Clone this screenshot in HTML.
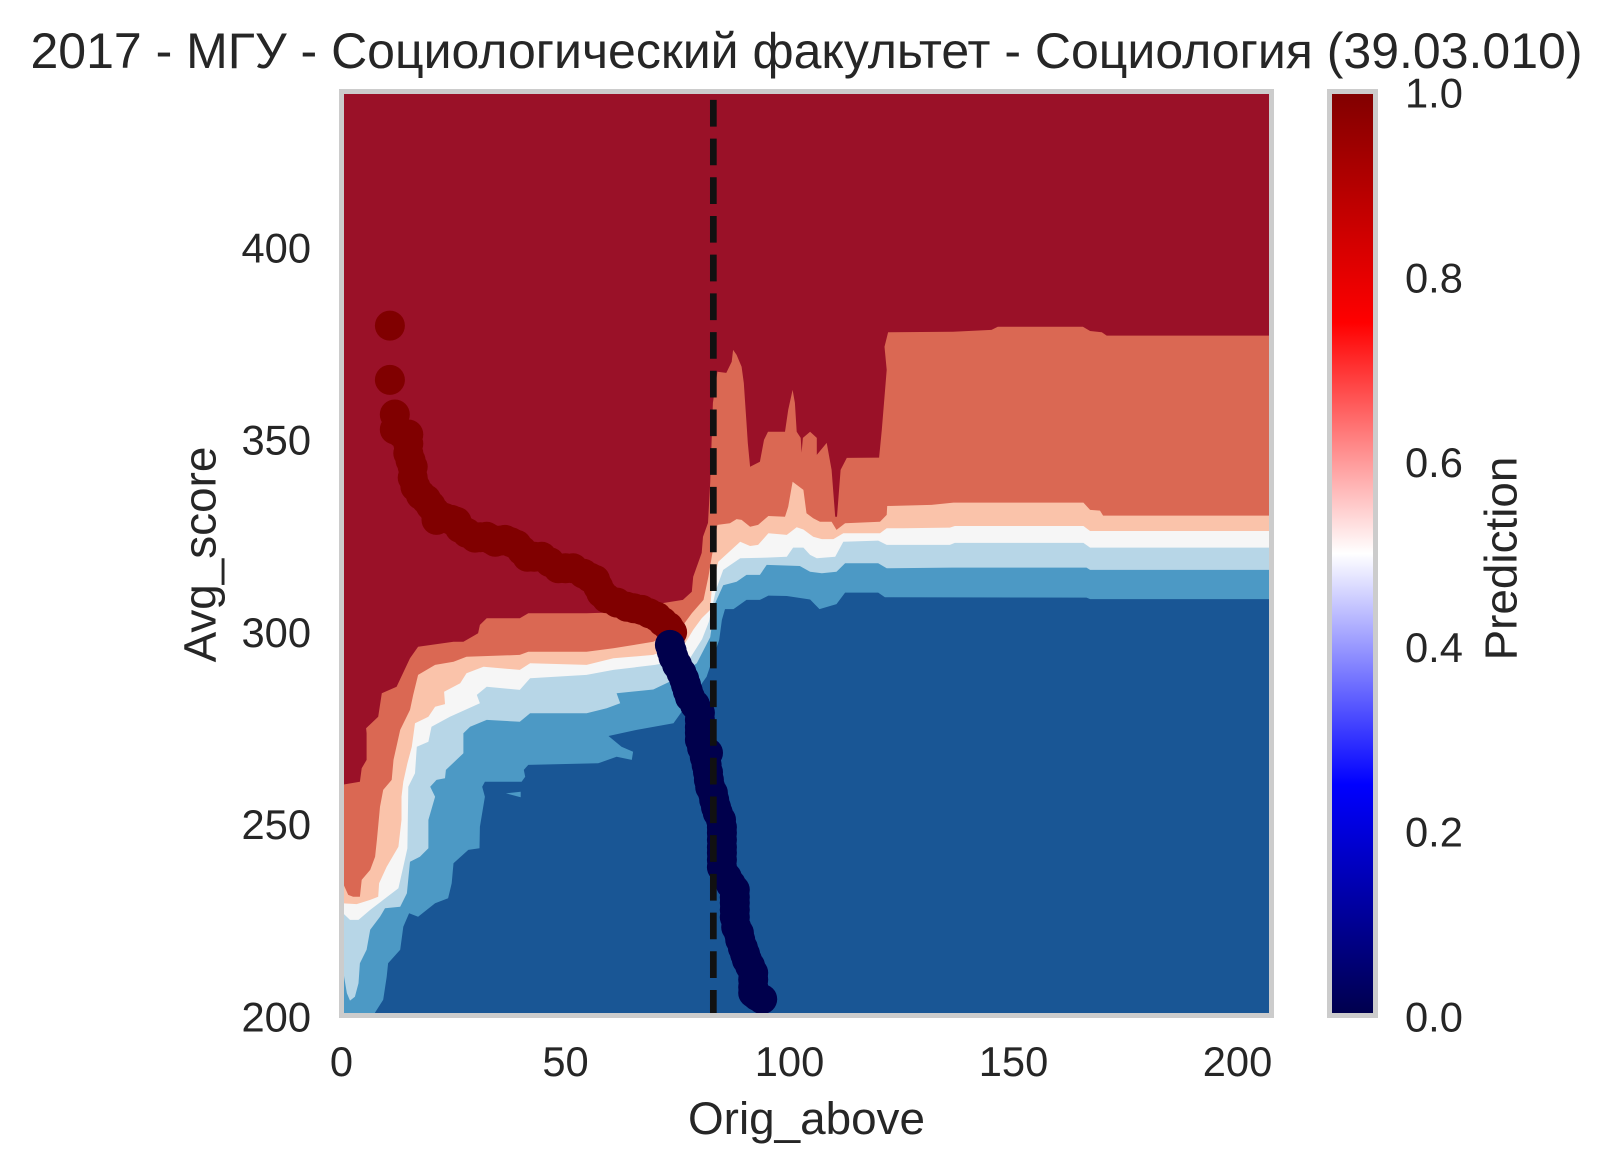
<!DOCTYPE html>
<html>
<head>
<meta charset="utf-8">
<title>2017 - МГУ - Социологический факультет - Социология (39.03.010)</title>
<style>
html,body{margin:0;padding:0;background:#fff;}
svg{display:block;}
text{font-family:"Liberation Sans","DejaVu Sans",sans-serif;fill:#262626;}
</style>
</head>
<body>
<svg id="chart" xmlns="http://www.w3.org/2000/svg" width="1612" height="1173" viewBox="0 0 1612 1173">
  <defs>
    <clipPath id="plot-clip"><rect x="341.5" y="91.5" width="930" height="924"></rect></clipPath>
    <linearGradient id="seismic" x1="0" y1="1" x2="0" y2="0"></linearGradient>
  </defs>
  <rect x="0" y="0" width="1612" height="1173" fill="#ffffff"></rect>
  <g id="contours" clip-path="url(#plot-clip)"></g>
  <g id="points" clip-path="url(#plot-clip)"></g>
  <line id="cutoff" stroke="#111111" stroke-width="6.7" stroke-dasharray="26.7 12"></line>
  <rect x="341.5" y="91.5" width="930" height="924" fill="none" stroke="#cccccc" stroke-width="5"></rect>
  <rect x="1329.5" y="91.5" width="46" height="924" fill="url(#seismic)" stroke="#cccccc" stroke-width="5"></rect>
  <g id="ticks"></g>
  <text x="806.5" y="68" font-size="50" text-anchor="middle">2017 - МГУ - Социологический факультет - Социология (39.03.010)</text>
  <text x="806.5" y="1134" font-size="45.83" text-anchor="middle">Orig_above</text>
  <text x="215.7" y="554.5" font-size="45.83" text-anchor="middle" transform="rotate(-90 215.7 554.5)">Avg_score</text>
  <text x="1516.7" y="558.5" font-size="45.83" text-anchor="middle" transform="rotate(-90 1516.7 558.5)">Prediction</text>
</svg>
<script>
// ---- Data (axis units) ----
const xTicks = [0, 50, 100, 150, 200];
const yTicks = [200, 250, 300, 350, 400];
const colorbarTicks = [0.0, 0.2, 0.4, 0.6, 0.8, 1.0];
const cutoffX = 83;
const cutoffYRange = [200, 438.2];

const bandColors = ['#da6853', '#fac3aa', '#f6f6f6', '#b7d6e7', '#4c99c5', '#195695'];
const topBandColor = '#9a1128';
const seismicValues = [0, 0.25, 0.5, 0.75, 1];
const seismicColors = ['#00004c', '#0000ff', '#ffffff', '#ff0000', '#800000'];

const boundaryDarkRed = [[0,260.1],[4.1,260.9],[4.5,264.4],[5.6,266.6],[5.6,273.5],[5.5,274.8],[8.2,277.8],[9,283.9],[12.3,285.6],[15.3,293],[17.1,296],[25,297.3],[27.2,297.3],[30.5,299.5],[30.9,301.7],[32.4,303.4],[39.8,303.4],[41.7,304.7],[54.7,304.7],[62,305],[71.5,307.3],[76.2,308.2],[78.2,310.3],[78.5,314.2],[80.4,320.4],[80.7,324.6],[81.8,328.2],[82.3,338.6],[82.9,359.4],[83.9,367.5],[85.9,367.2],[87.1,370.1],[87.4,373.2],[88.2,371.9],[89.3,368.8],[89.8,364.6],[90.4,354.2],[90.7,349],[91.2,342.8],[93.4,344.1],[94.3,349.8],[95.2,351.9],[99,351.9],[99.7,357.6],[100.7,362.8],[101.2,359.4],[101.6,351.9],[102.5,350.3],[102.7,346.5],[103,350.3],[104.6,351.9],[106.1,350.3],[106.1,345.9],[108.3,349],[109.4,342],[110.2,329.8],[110.6,329.8],[111.4,342],[112.8,345.1],[120,345.2],[120.6,352.4],[121.7,368],[121.2,374],[122,377.8],[136.5,377.9],[145.1,378.4],[146.5,379.2],[165.5,379.2],[167.1,378.1],[169.7,377.8],[170.8,376.9],[207.6,376.9]];

const boundaryOrange = [[0,235.4],[1.5,231.5],[2.6,231],[4.1,231],[4.5,235.4],[6.4,238],[7.5,241.4],[7.9,245.8],[8.6,254.4],[9.3,258.8],[11.2,261.4],[11.6,266.6],[13.1,274.4],[15.3,279.6],[16,283.5],[17.1,288.7],[20.9,291.3],[25,292.1],[27.9,293.4],[39.8,293.9],[41.7,294.7],[54.7,294.7],[60.7,295.6],[69.6,297.3],[76.3,301.7],[78.2,304.7],[80.8,308.2],[81.9,314.2],[82.9,321.2],[83.9,327.7],[86.7,328.1],[88.2,329.2],[89.3,329],[91.2,327.2],[93,327.7],[95.3,330],[99,329.8],[99.7,332.4],[100.7,338.9],[103.1,336.8],[103.8,330.7],[105.3,329.4],[106.8,328.5],[109.4,328.5],[110.5,326.4],[112.4,328.1],[120.2,328.5],[121.7,330.3],[121.8,332.6],[131.7,332.9],[136.6,333.5],[165.6,333.5],[167.1,331.6],[169.3,331.4],[170,330.1],[207.6,330.1]];

const boundaryPeach = [[0,229.3],[3.4,229.1],[6.4,230.2],[8.2,231],[8.4,234.5],[10.1,238.8],[12.7,244],[13.4,251],[13.4,257],[13.8,260.9],[14.7,265.7],[15.7,270],[16.4,276.1],[19.4,277.8],[20.9,280.4],[23.1,281.1],[22.9,284.3],[26.5,286.5],[27.9,289.1],[31.7,290.8],[39.8,290],[42.1,291.7],[54.7,291.3],[60.7,293],[69.6,293.9],[76.7,296.9],[78.5,300.4],[80.4,303.4],[82.3,305.6],[82.6,310.3],[84.1,318.1],[89,323.3],[91.2,322.2],[93,322.5],[95.3,325.5],[99.4,325.1],[101.6,327.1],[103.1,326.5],[105.3,324.6],[107.2,324],[109.8,324],[112,325.5],[120.2,325.5],[121.7,326.8],[125.4,326.8],[135.8,327],[136.9,327.4],[165.6,327.4],[167.1,326.1],[207.6,326.1]];

const boundaryWhite = [[0,227.1],[1.9,225],[3.8,225],[6.4,227.6],[9.3,230.2],[12.7,233.2],[13.8,238.8],[14.7,243.6],[14.9,259.6],[16.4,263.1],[16.8,270],[19.4,271.3],[20.1,275.2],[24.2,277.8],[30.9,281.3],[30.2,283.5],[32.4,285.6],[39.8,284.8],[42.1,287.8],[54.7,288.7],[60.7,290],[70,291.3],[77.8,293],[80.5,298],[82,302.5],[83.6,310.8],[85.2,316],[89,319],[94.9,319.2],[99.4,319.4],[100.8,321.8],[103.1,321.8],[104.6,319.9],[106.1,319],[110.2,319.4],[112,323.3],[119.8,323.6],[121.7,322.5],[135.8,322.5],[136.9,323],[165.6,323],[167.1,321.8],[207.6,321.8]];

const boundaryLightBlue = [[0,216],[0.6,210],[1.2,205.9],[1.9,204],[3,205],[3.8,208.5],[4.1,213.7],[5.6,217.2],[6.4,222.4],[8.6,225.8],[9.7,228],[13.1,228.4],[14.6,231.9],[15.3,240.1],[17.5,241.4],[19.4,243.6],[19.4,251],[20.9,257],[19.8,259.6],[21.2,261.4],[23.1,261.8],[23.3,264],[27.2,268.3],[27.2,273.5],[28.7,275.2],[32.4,277],[39.8,276.5],[42.1,278.7],[54.7,278.7],[59.2,280],[62.2,281.3],[61.4,283.9],[69.6,284.9],[74.1,287.4],[79.3,291.7],[82.3,298.5],[83.4,307.3],[85.2,312],[88.2,312.9],[90.4,314.7],[93.4,314.7],[94.9,317.3],[102.3,317],[104.6,315.5],[107.2,315.1],[110.5,315.5],[112.4,317.7],[119.8,317.7],[121.7,316.4],[136.2,316.6],[166.3,316.6],[167.1,316],[207.6,316]];

const boundaryMidBlue = [[7.2,200],[7.5,200.9],[9.3,204.2],[10.1,210.2],[10.4,213.7],[13.1,217.2],[13.8,223.2],[15.1,226.7],[17.1,225.8],[20.9,229.3],[23.8,230.6],[24.6,234.5],[25,239.7],[28.3,243.2],[30.8,243.6],[30.9,249.2],[32,257],[31.4,259.6],[32,260.9],[40.2,260.9],[41,262.2],[40.7,264],[41.7,265.3],[57.3,265.7],[61.4,267.4],[64.8,266.6],[65.1,268.7],[62.5,270],[59.6,272.8],[65.9,274.4],[74.1,276.1],[81.5,288.2],[84.3,297.8],[84.9,303],[85.6,305.8],[87.5,305.8],[90.4,308.2],[93.4,308.2],[95.3,309.3],[99.4,309.2],[104.6,308.3],[106.7,305.8],[110.5,307.1],[112.4,310.1],[119.8,310.1],[121.3,308.9],[166.3,308.8],[167.1,308.4],[207.6,308.4]];

const midBlueIsland = [[36.7,257.9],[40,258.3],[40,256.9],[38,257.5]];

const redPointsX = [10.8,10.8,11.9,11.9,13.4,14.9,14.9,14.9,15.4,15.9,15.9,16.5,17.7,18.9,19.9,20.9,21.2,23,24.5,25.7,26.4,28,29.8,31,32.4,33.3,34.3,35.4,36.5,37.8,39.1,40.3,41.5,43,44.7,46.5,48.4,50,51.7,54,55.5,56.6,57.3,58,59.2,61.5,63.7,65.3,67,68.7,70.4,71.7,73,73.8];
const redPointsY = [379.5,365.4,356.4,352.5,351.5,351.2,348.8,346.3,344.5,342.8,340,337.6,335.5,334.3,332.7,331.1,329,329.5,329,328.5,326.9,325.6,324.4,324.5,324.6,324,323.3,323.6,323.8,323.2,322.5,321,319.4,319.4,319.4,318,316.4,316.4,316.4,315,314,313.4,311.6,310,308.6,307.5,306.4,306,305.6,304.7,303.8,302.5,301.2,299.8];

const bluePointsX = [73.3,73.7,74.1,74.9,75.9,76.5,76.9,77.3,77.8,78.9,80,80,80,80,80,80.5,81.1,81.8,81.5,81.8,82,82.3,82.9,83.2,83.6,84,84.7,84.9,84.9,84.9,84.9,84.9,84.9,84.9,86,86.9,87.8,87.8,87.8,87.8,87.8,88.1,88.7,89,89.6,90.1,90.5,91.2,91.9,91.9,91.9,91.9,92.8,93.9];
const bluePointsY = [296.5,294.9,293.3,291.3,289.2,287.6,286.1,284.5,282.9,280.9,278.8,277,275.1,273.6,271.8,269.7,267.3,268.4,265.3,263.4,261.4,259.5,258,256.2,254.3,252.8,251,249.1,247.6,245.8,243.9,242.4,240.6,238.7,236.1,234.3,232.8,230.9,229.4,227.6,225.7,223.1,221.6,219.8,217.7,216.1,214.6,213,211.2,209.4,207.5,206,205.2,204.4];

// ---- Axis functions ----
const xOrigin = 341.5, xPerUnit = 4.48;
const yOrigin = 1016, yPerUnit = 3.846;
function xScale(v) { return xOrigin + v * xPerUnit; }
function yScale(v) { return yOrigin - (v - 200) * yPerUnit; }
function cScale(v) { return 1015.5 - v * 924; }

const NS = 'http://www.w3.org/2000/svg';
const bottomY = 200;
const contours = document.getElementById('contours');
const points = document.getElementById('points');
const ticks = document.getElementById('ticks');

// Top band
const topBand = document.createElementNS(NS, 'rect');


topBand.setAttribute('x', xScale(0));
topBand.setAttribute('y', 91.5);
topBand.setAttribute('width', 930);
topBand.setAttribute('height', 924);
topBand.setAttribute('fill', topBandColor);
contours.appendChild(topBand);

// Bands below each boundary
const boundaries = [boundaryDarkRed, boundaryOrange, boundaryPeach, boundaryWhite, boundaryLightBlue, boundaryMidBlue];
boundaries.forEach(function (line, i) {
  const first = line[0];
  const last = line[line.length - 1];
  const pts = line.map(function (p) { return xScale(p[0]).toFixed(1) + ',' + yScale(p[1]).toFixed(1); });
  pts.push(xScale(last[0]).toFixed(1) + ',' + yScale(bottomY - 1).toFixed(1));
  pts.push(xScale(first[0]).toFixed(1) + ',' + yScale(bottomY - 1).toFixed(1));
  const poly = document.createElementNS(NS, 'polygon');
  
  
  poly.setAttribute('points', pts.join(' '));
  poly.setAttribute('fill', bandColors[i]);
  contours.appendChild(poly);
});

const island = document.createElementNS(NS, 'polygon');


island.setAttribute('points', midBlueIsland.map(function (p) { return xScale(p[0]).toFixed(1) + ',' + yScale(p[1]).toFixed(1); }).join(' '));
island.setAttribute('fill', bandColors[4]);
contours.appendChild(island);

// Scatter points
redPointsX.forEach(function (v, i) {
  const c = document.createElementNS(NS, 'circle');
  
  
  c.setAttribute('cx', xScale(v).toFixed(1));
  c.setAttribute('cy', yScale(redPointsY[i]).toFixed(1));
  c.setAttribute('r', 15);
  c.setAttribute('fill', '#800000');
  points.appendChild(c);
});
bluePointsX.forEach(function (v, i) {
  const c = document.createElementNS(NS, 'circle');
  
  
  c.setAttribute('cx', xScale(v).toFixed(1));
  c.setAttribute('cy', yScale(bluePointsY[i]).toFixed(1));
  c.setAttribute('r', 15);
  c.setAttribute('fill', '#00004c');
  points.appendChild(c);
});

// Cutoff line
const cutoff = document.getElementById('cutoff');
cutoff.setAttribute('x1', xScale(cutoffX));
cutoff.setAttribute('x2', xScale(cutoffX));
cutoff.setAttribute('y1', yScale(cutoffYRange[1]));
cutoff.setAttribute('y2', yScale(cutoffYRange[0]));

// Colorbar gradient
const gradient = document.getElementById('seismic');
seismicValues.forEach(function (v, i) {
  const s = document.createElementNS(NS, 'stop');
  s.setAttribute('offset', v);
  s.setAttribute('stop-color', seismicColors[i]);
  gradient.appendChild(s);
});

// Tick labels
xTicks.forEach(function (v) {
  const t = document.createElementNS(NS, 'text');
  
  
  t.setAttribute('x', xScale(v));
  t.setAttribute('y', 1076);
  t.setAttribute('font-size', 41.67);
  t.setAttribute('text-anchor', 'middle');
  t.textContent = String(v);
  ticks.appendChild(t);
});
yTicks.forEach(function (v) {
  const t = document.createElementNS(NS, 'text');
  
  
  t.setAttribute('x', 311);
  t.setAttribute('y', yScale(v) + 15.5);
  t.setAttribute('font-size', 41.67);
  t.setAttribute('text-anchor', 'end');
  t.textContent = String(v);
  ticks.appendChild(t);
});
colorbarTicks.forEach(function (v) {
  const t = document.createElementNS(NS, 'text');
  
  
  t.setAttribute('x', 1405);
  t.setAttribute('y', cScale(v) + 16);
  t.setAttribute('font-size', 41.67);
  t.textContent = v.toFixed(1);
  ticks.appendChild(t);
});
</script>
</body>
</html>
